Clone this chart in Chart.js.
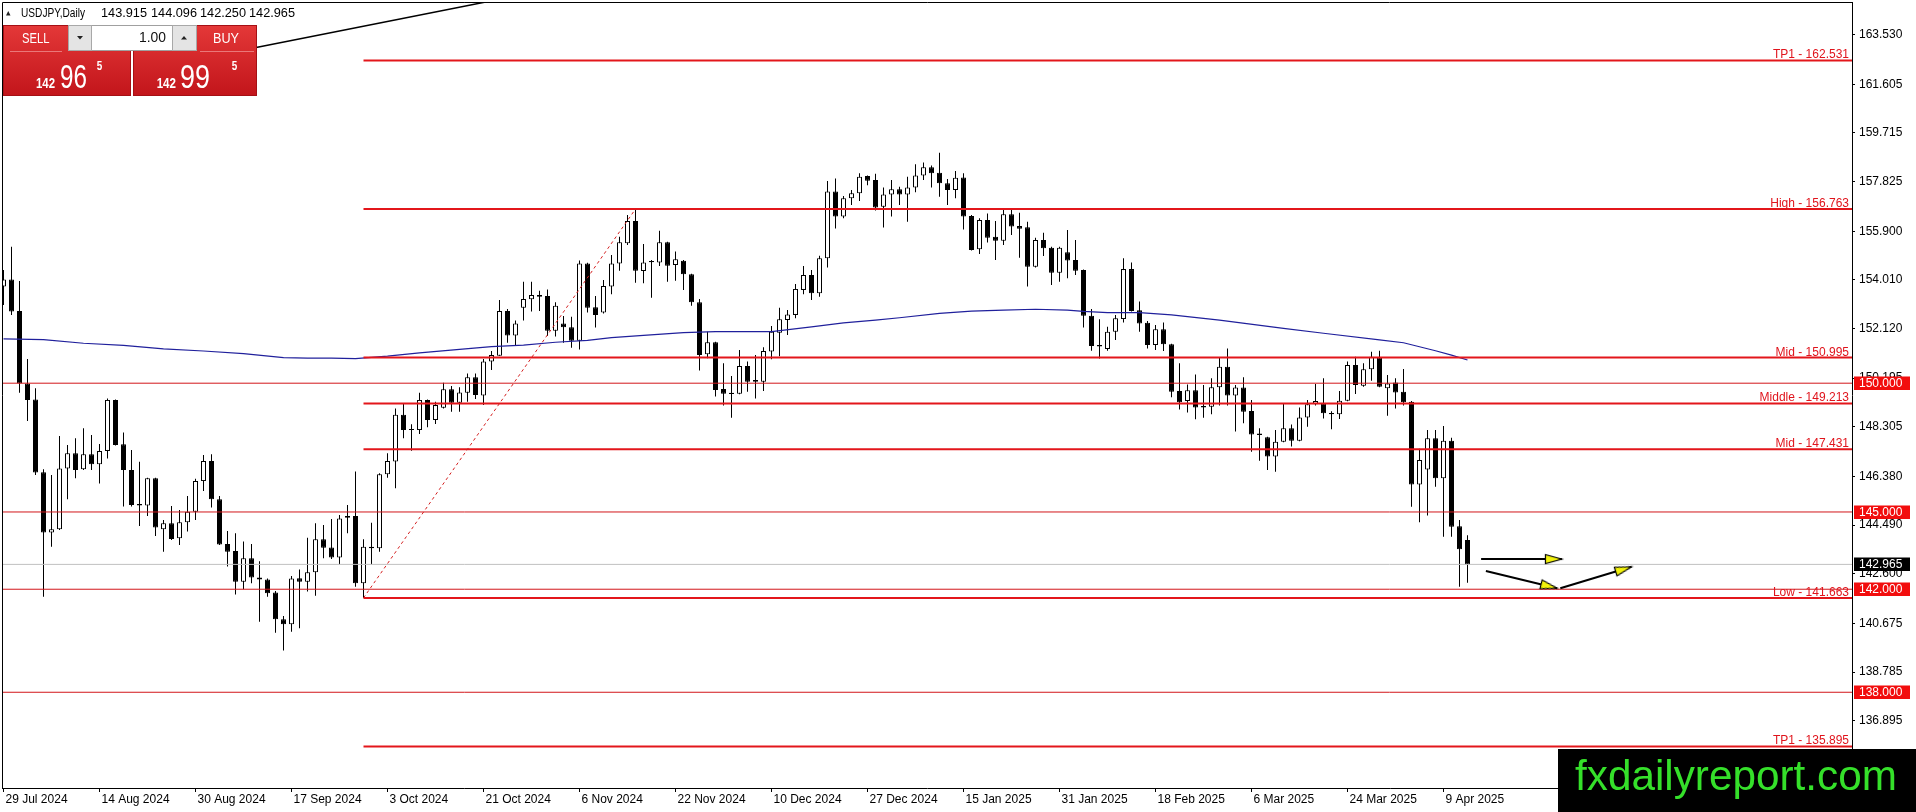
<!DOCTYPE html>
<html><head><meta charset="utf-8">
<script src="https://cdn.jsdelivr.net/npm/chart.js@4.4.1/dist/chart.umd.min.js"></script>
<style>
html,body{margin:0;padding:0;background:#fff;overflow:hidden;}
#wrap{position:relative;width:1916px;height:812px;}
#c{position:absolute;left:0;top:0;}
#ov{position:absolute;left:0;top:0;pointer-events:none;font-family:"Liberation Sans",Arial,sans-serif;}
</style></head><body>
<div id="wrap">
<canvas id="c" width="1916" height="812"></canvas>
<svg id="ov" width="1916" height="812">
<defs>
 <linearGradient id="rg" x1="0" y1="0" x2="0" y2="1">
  <stop offset="0" stop-color="#e43838"/><stop offset="1" stop-color="#c2151b"/>
 </linearGradient>
</defs>
<polygon points="6,15.5 10.5,15.5 8.25,11" fill="#222"/>
<text x="21" y="17" font-size="12" fill="#000" textLength="64" lengthAdjust="spacingAndGlyphs">USDJPY,Daily</text>
<text x="101" y="17" font-size="12" fill="#000" textLength="46" lengthAdjust="spacingAndGlyphs">143.915</text>
<text x="151" y="17" font-size="12" fill="#000" textLength="46" lengthAdjust="spacingAndGlyphs">144.096</text>
<text x="200" y="17" font-size="12" fill="#000" textLength="46" lengthAdjust="spacingAndGlyphs">142.250</text>
<text x="249" y="17" font-size="12" fill="#000" textLength="46" lengthAdjust="spacingAndGlyphs">142.965</text>
<rect x="3.5" y="25.5" width="127" height="70" fill="url(#rg)" stroke="#a51015"/>
<rect x="133.5" y="25.5" width="123" height="70" fill="url(#rg)" stroke="#a51015"/>
<line x1="10" y1="51.5" x2="62" y2="51.5" stroke="#f29a9a" stroke-opacity="0.7"/>
<line x1="200" y1="51.5" x2="254" y2="51.5" stroke="#f29a9a" stroke-opacity="0.7"/>
<rect x="68.5" y="25.5" width="128" height="25" fill="#fff" stroke="#a0a0a0"/>
<rect x="68.5" y="25.5" width="23" height="25" fill="#e4e4e4" stroke="#a8a8a8"/>
<rect x="172.5" y="25.5" width="24" height="25" fill="#e4e4e4" stroke="#a8a8a8"/>
<polygon points="77,36 83,36 80,39.5" fill="#222"/>
<polygon points="181,39.5 187,39.5 184,36" fill="#222"/>
<text x="139" y="42" font-size="14" fill="#111" textLength="27" lengthAdjust="spacingAndGlyphs">1.00</text>
<text x="22" y="43.3" font-size="14" fill="#fff" textLength="27.5" lengthAdjust="spacingAndGlyphs">SELL</text>
<text x="213" y="43.3" font-size="14" fill="#fff" textLength="26" lengthAdjust="spacingAndGlyphs">BUY</text>
<text x="36" y="87.5" font-size="14" font-weight="bold" fill="#fff" textLength="19" lengthAdjust="spacingAndGlyphs">142</text>
<text x="60" y="87.5" font-size="34" fill="#fff" textLength="27" lengthAdjust="spacingAndGlyphs">96</text>
<text x="96.7" y="70" font-size="13" font-weight="bold" fill="#fff" textLength="5.5" lengthAdjust="spacingAndGlyphs">5</text>
<text x="156.7" y="87.5" font-size="14" font-weight="bold" fill="#fff" textLength="19.3" lengthAdjust="spacingAndGlyphs">142</text>
<text x="180" y="87.5" font-size="34" fill="#fff" textLength="30" lengthAdjust="spacingAndGlyphs">99</text>
<text x="231.7" y="70" font-size="13" font-weight="bold" fill="#fff" textLength="5.5" lengthAdjust="spacingAndGlyphs">5</text>
<rect x="1558" y="749" width="358" height="63" fill="#000"/>
<text x="1575" y="790" font-size="42" fill="#35e02a" textLength="322" lengthAdjust="spacingAndGlyphs">fxdailyreport.com</text>
</svg>
</div>
<script>
// ---------------- data ----------------
const dateLabels = ['29 Jul 2024','14 Aug 2024','30 Aug 2024','17 Sep 2024','3 Oct 2024','21 Oct 2024','6 Nov 2024','22 Nov 2024','10 Dec 2024','27 Dec 2024','15 Jan 2025','31 Jan 2025','18 Feb 2025','6 Mar 2025','24 Mar 2025','9 Apr 2025'];
const dateTickBars = [0,12,24,36,48,60,72,84,96,108,120,132,144,156,168,180];

const opens = [153.75,154.03,152.80,149.99,149.37,146.54,144.20,144.33,146.69,147.28,
146.66,147.24,146.85,147.37,149.35,147.63,146.63,145.31,145.25,146.31,
144.33,144.56,143.98,144.60,145.01,146.20,146.98,145.49,143.76,143.48,
142.29,143.20,142.46,142.38,141.87,140.83,140.64,142.43,142.29,142.66,
143.94,143.62,143.23,144.84,144.84,142.23,143.65,143.59,146.46,146.96,
148.77,148.22,148.18,149.35,148.57,149.05,149.76,149.24,149.63,150.23,
149.52,150.84,151.07,152.80,151.85,152.93,153.26,153.42,153.39,152.04,
152.32,152.17,151.65,154.65,152.95,152.74,153.75,154.65,155.43,156.30,
154.36,154.70,154.69,155.47,154.59,154.75,154.23,153.14,151.12,151.59,
149.77,149.63,149.59,150.67,150.12,150.06,151.23,151.96,152.45,152.65,
153.62,154.20,153.49,154.85,157.44,156.47,157.18,157.37,158.04,157.89,
156.85,157.33,157.53,157.33,157.60,158.06,158.38,158.17,157.76,157.50,
157.99,156.49,155.20,156.34,155.69,155.53,156.56,156.10,156.05,154.52,
155.56,155.26,154.29,155.08,154.78,154.39,152.62,151.48,151.33,152.00,
152.49,154.43,152.83,152.35,151.48,152.09,151.51,149.70,149.31,149.73,
149.11,149.09,149.84,150.64,149.52,149.83,148.92,148.05,147.90,147.15,
147.73,148.25,147.77,148.67,149.18,149.22,148.84,148.79,149.32,150.71,
149.90,150.54,151.00,149.80,150.03,149.67,149.28,146.07,146.65,147.86,
146.31,147.77,144.45,143.915];
const highs = [154.39,155.30,153.97,150.94,149.80,146.66,146.44,147.95,147.60,147.86,
148.25,147.99,147.64,149.41,149.37,148.09,147.41,146.95,146.33,146.33,
144.69,145.23,145.08,145.62,146.29,147.21,147.24,145.62,144.26,144.17,
143.85,143.76,143.09,142.42,141.93,140.96,142.51,142.77,144.00,144.56,
144.49,144.73,144.88,145.27,146.57,143.94,144.58,146.50,147.28,149.02,
149.19,148.41,149.63,149.37,149.28,150.02,149.89,149.84,150.38,150.38,
150.94,151.25,153.23,152.88,152.43,153.94,153.94,153.59,153.64,153.14,
152.61,152.58,154.76,154.68,153.39,154.01,154.98,155.69,156.53,156.763,
155.40,154.78,155.92,155.49,155.11,154.78,154.25,153.27,152.00,151.61,
150.77,150.28,151.29,150.84,151.09,151.40,152.22,152.93,152.84,153.85,
154.55,154.39,154.95,157.85,157.95,157.27,157.50,158.15,158.06,158.13,
157.60,157.89,157.63,158.02,158.50,158.57,158.45,158.95,157.93,158.24,
158.15,156.53,156.40,156.59,156.30,156.76,156.76,156.62,156.27,155.65,
155.84,155.30,155.30,155.95,155.56,154.41,152.88,152.48,152.19,152.65,
154.85,154.69,153.17,152.41,152.26,152.36,151.53,150.77,149.95,150.34,
149.93,150.19,151.00,151.35,149.93,150.23,149.35,148.25,147.92,148.18,
149.22,148.40,149.06,149.35,149.97,150.19,148.91,149.70,150.84,151.03,
150.77,151.22,151.26,150.32,150.19,150.55,149.31,147.45,148.18,148.18,
148.34,147.88,144.69,144.096];
const lows = [153.04,152.65,149.63,148.53,146.44,141.71,143.65,144.30,145.49,146.31,
146.63,146.63,146.11,147.08,147.58,145.21,145.21,144.46,144.84,144.07,
143.46,143.91,143.72,144.24,144.69,145.81,145.17,143.72,142.88,141.80,
142.00,142.23,140.74,141.71,140.31,139.62,140.35,140.49,141.91,141.75,
143.20,143.17,142.97,144.17,142.10,141.663,142.97,143.46,146.33,145.92,
147.86,147.38,148.03,148.29,148.42,149.02,148.89,148.89,149.28,149.39,
149.15,150.51,151.07,151.57,151.48,152.43,152.78,152.80,151.83,151.81,
151.57,151.38,151.31,152.74,152.16,152.71,153.45,154.37,155.37,153.90,
153.88,153.32,154.55,153.94,153.98,153.62,153.01,150.49,150.97,149.48,
149.13,148.66,149.57,149.67,149.41,149.70,150.93,151.05,151.87,152.52,
153.45,153.23,153.36,154.49,156.01,156.40,156.92,157.07,157.69,156.70,
156.04,156.47,156.92,156.27,157.41,157.89,157.60,157.24,156.92,157.18,
155.97,155.15,155.02,155.46,154.78,155.37,155.75,154.87,153.75,154.49,
154.94,153.81,153.94,154.07,154.20,152.16,151.26,150.96,151.26,151.68,
152.36,152.78,152.00,151.35,151.29,151.25,149.45,148.98,148.86,148.60,
148.66,148.79,149.13,149.13,148.12,148.44,147.34,146.99,146.63,146.56,
147.71,147.54,147.75,148.31,149.13,148.63,148.21,148.61,149.30,149.58,
149.86,150.09,149.84,148.74,149.02,149.13,145.20,144.60,144.86,145.98,
144.04,144.04,142.10,142.250];
const closes = [154.03,152.78,149.99,149.35,146.53,144.20,144.33,146.69,147.28,146.63,
147.24,146.85,147.37,149.35,147.60,146.63,145.27,145.25,146.31,144.40,
144.56,143.95,144.60,145.01,146.20,146.98,145.49,143.74,143.46,142.29,
143.20,142.46,142.38,141.84,140.83,140.64,142.42,142.29,142.66,143.94,
143.61,143.23,144.75,144.78,142.23,143.65,143.59,146.46,146.98,148.77,
148.18,148.18,149.35,148.57,149.15,149.76,149.24,149.64,150.23,149.54,
150.84,151.09,152.80,151.85,152.32,153.27,153.42,153.36,152.04,153.01,
152.17,151.65,154.65,152.93,152.65,153.77,154.65,155.47,156.30,154.37,
154.69,154.74,155.47,154.56,154.81,154.23,153.14,151.09,151.59,149.74,
149.59,149.58,150.67,150.06,150.06,151.25,152.00,152.48,152.67,153.66,
154.20,153.49,154.85,157.44,156.47,157.18,157.37,158.02,157.86,156.82,
157.33,157.53,157.33,157.60,158.06,158.38,158.15,157.76,157.50,157.98,
156.47,155.17,156.34,155.65,155.53,156.56,156.08,156.00,154.52,155.56,
155.24,154.29,155.26,154.76,154.37,152.62,151.44,151.42,152.00,152.52,
154.43,152.80,152.32,151.48,152.09,151.51,149.67,149.26,149.73,149.06,
149.06,149.84,150.64,149.52,149.83,148.89,148.01,147.99,147.15,147.73,
148.25,147.77,148.67,149.18,149.31,148.83,148.79,149.32,150.71,149.93,
150.54,151.03,149.86,149.99,149.64,149.26,146.07,147.02,147.86,146.31,
147.77,144.43,143.55,142.965];

const maBars = [0,5,10,15,20,25,30,35,38,41,44,48,52,57,61,65,69,73,76,80,85,89,96,101,105,109,112,117,121,125,129,133,135,138,142,146,152,160,165,172,175,179,181,183];
const maValues = [151.72,151.69,151.55,151.47,151.33,151.25,151.15,150.99,150.97,150.97,150.95,151.05,151.18,151.31,151.42,151.48,151.59,151.66,151.77,151.86,151.96,152.00,152.00,152.19,152.34,152.45,152.54,152.71,152.80,152.84,152.87,152.84,152.79,152.74,152.74,152.65,152.45,152.13,151.94,151.68,151.57,151.26,151.09,150.90];

const levelValues = [162.531,156.763,150.995,149.213,147.431,141.663,135.895];
const levelTexts = ['TP1 - 162.531','High - 156.763','Mid - 150.995','Middle - 149.213','Mid - 147.431','Low - 141.663','TP1 - 135.895'];
const levelStartBar = 45;
const roundLevels = [150,145,142,138];
const lastPrice = 142.965;

const priceBoxValues = [150,145,142.965,142,138];
const priceBoxColors = ['#f20d0d','#f20d0d','#000000','#f20d0d','#f20d0d'];

const yTickValues = [163.530,161.605,159.715,157.825,155.900,154.010,152.120,150.195,148.305,146.380,144.490,142.600,140.675,138.785,136.895];

const dashX = [45,79], dashY = [141.663,156.763];
const trendX = [30,65], trendY = [162.94,165.09];

const arrowStartX = [184.7,185.3,194.6], arrowStartY = [143.17,142.71,142.04];
const arrowEndX = [194.8,194.2,203.5], arrowEndY = [143.17,142.04,142.87];

const xMin = -0.1875, xMax = 231.0625;
const yMin = 134.283, yMax = 164.80;

// ---------------- chart ----------------
Chart.defaults.font.family = "'Liberation Sans', Arial, sans-serif";
Chart.defaults.font.size = 12;
Chart.defaults.color = '#000';

function makeHead(){
  const c = document.createElement('canvas'); c.width = 38; c.height = 12;
  const g = c.getContext('2d');
  g.beginPath(); g.moveTo(19,6); g.lineTo(2.5,1.5); g.lineTo(2.5,10.5); g.closePath();
  g.fillStyle = '#f2f20c'; g.fill(); g.strokeStyle = '#000'; g.lineWidth = 1.2; g.stroke();
  return c;
}
const head = makeHead();

const datasets = [];
// wicks
datasets.push({
  type:'bar', order:20, grouped:false, barThickness:1, inflateAmount:0,
  data: lows.map((l,i)=>({x:i, y:[l, highs[i]]})),
  backgroundColor:'#000', borderWidth:0
});
// bodies
datasets.push({
  type:'bar', order:19, grouped:false, barThickness:5, inflateAmount:0,
  data: opens.map((o,i)=>({x:i, y:[o, closes[i]]})),
  backgroundColor: opens.map((o,i)=> closes[i] > o ? '#ffffff' : '#000000'),
  borderColor:'#000', borderWidth:1, borderSkipped:false
});
// round levels (thin, full width)
roundLevels.forEach(v=>{
  datasets.push({type:'line', order:6, data:[{x:xMin,y:v},{x:xMax,y:v}], borderColor:'#d2161a', borderWidth:1, pointRadius:0});
});
// last price line
datasets.push({type:'line', order:6, data:[{x:xMin,y:lastPrice},{x:xMax,y:lastPrice}], borderColor:'#c0c0c0', borderWidth:1, pointRadius:0});
// MA
datasets.push({type:'line', order:5, data: maBars.map((b,k)=>({x:b, y:maValues[k]})), borderColor:'#20209c', borderWidth:1.2, pointRadius:0, tension:0});
// named levels (thick)
levelValues.forEach(v=>{
  datasets.push({type:'line', order:4, data:[{x:levelStartBar,y:v},{x:xMax,y:v}], borderColor:'#e3161b', borderWidth:2, pointRadius:0});
});
// dashed trend
datasets.push({type:'line', order:3, data:[{x:dashX[0],y:dashY[0]},{x:dashX[1],y:dashY[1]}], borderColor:'#d42020', borderWidth:1, borderDash:[3,3], pointRadius:0});
// black trend line
datasets.push({type:'line', order:2, data:[{x:trendX[0],y:trendY[0]},{x:trendX[1],y:trendY[1]}], borderColor:'#000', borderWidth:1.5, pointRadius:0});
// arrows
arrowStartX.forEach((sx,k)=>{
  datasets.push({
    type:'line', order:1, arrowIdx:k,
    data:[{x:sx,y:arrowStartY[k]},{x:arrowEndX[k],y:arrowEndY[k]}],
    borderColor:'#000', borderWidth:2,
    pointRadius:[0,6], pointStyle: head,
    pointRotation: (c)=>{
      const s = c.chart.scales; const k2 = c.dataset.arrowIdx;
      const x0 = s.x.getPixelForValue(arrowStartX[k2]), y0 = s.y.getPixelForValue(arrowStartY[k2]);
      const x1 = s.x.getPixelForValue(arrowEndX[k2]), y1 = s.y.getPixelForValue(arrowEndY[k2]);
      return Math.atan2(y1-y0, x1-x0)*180/Math.PI;
    }
  });
});

const framePlugin = {
  id:'frame',
  afterDraw(chart){
    const {ctx, chartArea:a} = chart;
    ctx.save(); ctx.strokeStyle='#000'; ctx.lineWidth=1;
    ctx.beginPath(); ctx.moveTo(a.left+0.5, a.bottom); ctx.lineTo(a.left+0.5, a.top+0.5); ctx.lineTo(a.right, a.top+0.5); ctx.stroke();
    ctx.restore();
  }
};
const levelLabelPlugin = {
  id:'levelLabels',
  afterDatasetsDraw(chart){
    const {ctx, chartArea:a, scales:{y}} = chart;
    ctx.save(); ctx.font = "12px 'Liberation Sans', Arial, sans-serif"; ctx.fillStyle='#e0141c';
    ctx.textAlign='right'; ctx.textBaseline='alphabetic';
    levelValues.forEach((v,k)=>{ ctx.fillText(levelTexts[k], a.right-3, y.getPixelForValue(v)-2); });
    ctx.restore();
  }
};
const priceBoxPlugin = {
  id:'priceBoxes',
  afterDraw(chart){
    const {ctx, scales:{y}} = chart;
    ctx.save(); ctx.font = "12px 'Liberation Sans', Arial, sans-serif"; ctx.textBaseline='middle'; ctx.textAlign='left';
    priceBoxValues.forEach((v,k)=>{
      const py = Math.round(y.getPixelForValue(v));
      ctx.fillStyle = priceBoxColors[k];
      ctx.fillRect(y.left+2, py-6.5, 56, 13.5);
      ctx.fillStyle = '#fff';
      ctx.fillText(v.toFixed(3), y.left+7, py+0.5);
    });
    ctx.restore();
  }
};

new Chart(document.getElementById('c'), {
  type:'bar',
  data:{datasets},
  options:{
    responsive:false, animation:false, devicePixelRatio:1, events:[],
    layout:{padding:{left:2, top:2, right:0, bottom:0}, autoPadding:false},
    plugins:{legend:{display:false}, tooltip:{enabled:false}},
    scales:{
      x:{
        type:'linear', min:xMin, max:xMax, offset:false,
        grid:{display:true, drawOnChartArea:false, drawTicks:true, tickLength:4, color:'#000', offset:false},
        border:{display:true, color:'#000', width:1},
        ticks:{autoSkip:false, maxRotation:0, minRotation:0, align:'start', padding:0, labelOffset:2, color:'#000',
          callback:(v)=>{ const k = dateTickBars.indexOf(v); return k>=0 ? dateLabels[k] : ''; }},
        afterBuildTicks:(s)=>{ s.ticks = dateTickBars.map(v=>({value:v})); },
        afterFit:(s)=>{ s.height = 24; s.paddingLeft = 0; s.paddingRight = 0; }
      },
      y:{
        type:'linear', position:'right', min:yMin, max:yMax, beginAtZero:false,
        grid:{display:true, drawOnChartArea:false, drawTicks:true, tickLength:3, color:'#000'},
        border:{display:true, color:'#000', width:1},
        ticks:{padding:4, color:'#000', callback:(v)=>Number(v).toFixed(3)},
        afterBuildTicks:(s)=>{ s.ticks = yTickValues.map(v=>({value:v})); },
        afterFit:(s)=>{ s.width = 64; s.paddingTop = 0; s.paddingBottom = 0; }
      }
    }
  },
  plugins:[framePlugin, levelLabelPlugin, priceBoxPlugin]
});
</script>
</body></html>
